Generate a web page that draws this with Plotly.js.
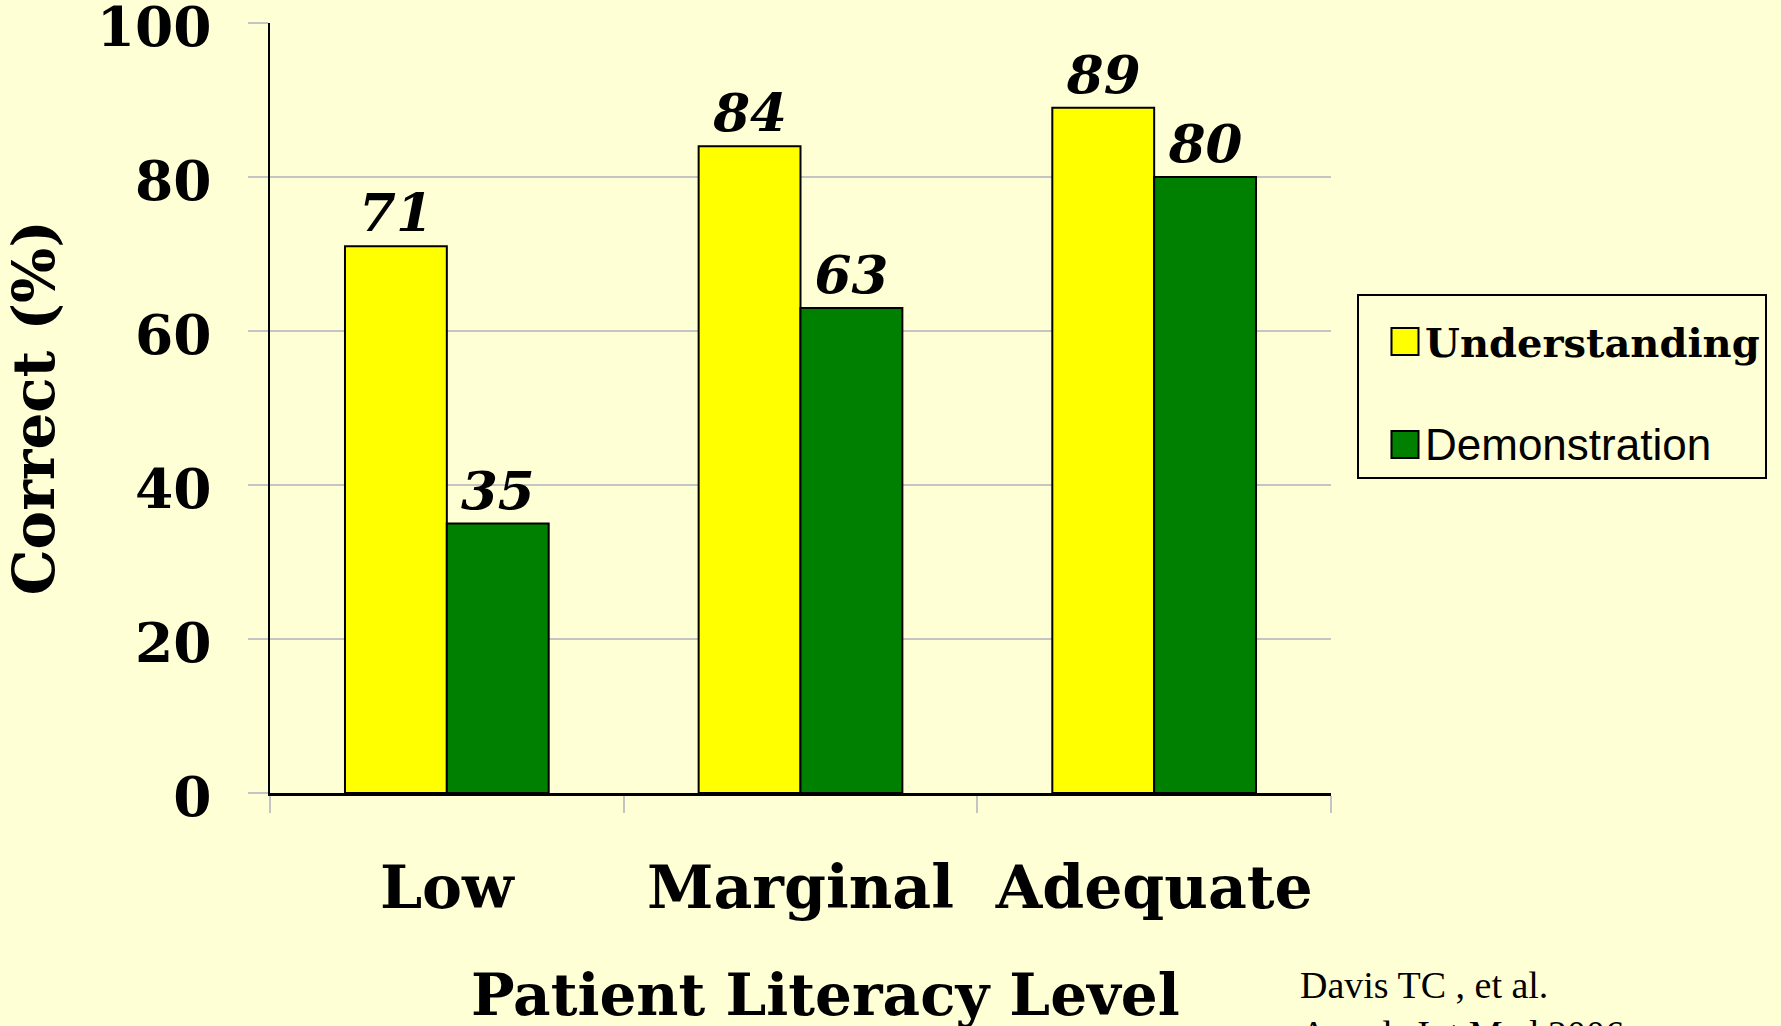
<!DOCTYPE html>
<html>
<head>
<meta charset="utf-8">
<script src="https://cdn.plot.ly/plotly-3.0.1.min.js"></script>
<style>
  html, body { margin: 0; padding: 0; background: #FFFFD5; }
  #chart { width: 1781px; height: 1026px; }
</style>
</head>
<body>
<div id="chart"></div>
<script>
// ---- data ----
const categories = ["Low", "Marginal", "Adequate"];
const understanding = [71, 84, 89];
const demonstration = [35, 63, 80];
const seriesNames = ["Understanding", "Demonstration"];
const yTicks = [0, 20, 40, 60, 80, 100];
const xTitle = "Patient Literacy Level";
const yTitle = "Correct (%)";
const citation = ["Davis TC , et al.", "Annals Int Med 2006"];

const BG = "#FFFFD5";
const GRID = "#C4C4C4";
const serifBold = {family: "DejaVu Serif", weight: "bold", color: "#000"};
const labelFont = {family: "DejaVu Serif", size: 53, weight: "bold", style: "italic", color: "#000"};

const traces = [
  {
    type: "bar", name: "<b>" + seriesNames[0] + "</b>", legendgroup: "a",
    x: categories, y: understanding,
    marker: {color: "#FFFF00", line: {color: "#000", width: 2}},
    text: understanding.map(String), textposition: "outside", textfont: labelFont,
    constraintext: "none", cliponaxis: false, hoverinfo: "x+y"
  },
  {
    type: "bar",
    name: '<span style="font-family:Liberation Sans;font-weight:normal;font-size:44px">' + seriesNames[1] + '</span>',
    legendgroup: "b",
    x: categories, y: demonstration,
    marker: {color: "#008000", line: {color: "#000", width: 2}},
    text: demonstration.map(String), textposition: "outside", textfont: labelFont,
    constraintext: "none", cliponaxis: false, hoverinfo: "x+y"
  }
];

const citeFont = {family: "Liberation Serif", size: 38, color: "#000"};
const citeX = (1298 - 270) / 1061;

const layout = {
  width: 1781, height: 1026,
  paper_bgcolor: BG, plot_bgcolor: BG,
  margin: {l: 270, r: 450, t: 23, b: 233, pad: 0},
  barmode: "group", bargap: 0.424, bargroupgap: 0,
  showlegend: true,
  legend: {
    x: 1.0245, xanchor: "left", y: 0.648, yanchor: "top",
    bgcolor: BG, bordercolor: "#000", borderwidth: 2,
    font: {family: "DejaVu Serif", size: 40, color: "#000"},
    traceorder: "grouped", tracegroupgap: 48, indentation: 26,
    title: {text: " ", font: {size: 10}}
  },
  xaxis: {
    type: "category", range: [-0.5, 2.5],
    showline: true, linecolor: "#000", linewidth: 3,
    ticks: "outside", tickson: "boundaries", ticklen: 17, tickwidth: 2, tickcolor: GRID,
    tickfont: Object.assign({size: 60}, serifBold),
    ticklabelstandoff: 40,
    showgrid: false, zeroline: false, automargin: false
  },
  yaxis: {
    range: [0, 100], tickvals: yTicks, ticktext: yTicks.map(String),
    showline: true, linecolor: "#000", linewidth: 2.5,
    ticks: "outside", ticklen: 20, tickwidth: 2, tickcolor: GRID,
    tickfont: Object.assign({size: 55}, serifBold),
    ticklabelstandoff: 25, ticklabelshift: 4, ticklabeloverflow: "allow",
    showgrid: true, gridcolor: GRID, gridwidth: 2, zeroline: false, automargin: false,
    title: {text: yTitle, font: Object.assign({size: 58}, serifBold), standoff: 31}
  },
  annotations: [
    {
      xref: "paper", yref: "paper", x: 0.5, xshift: 25, y: (793 - 995) / 770,
      xanchor: "center", yanchor: "middle", showarrow: false,
      text: xTitle, font: Object.assign({size: 58}, serifBold)
    },
    {
      xref: "paper", yref: "paper", x: citeX, y: -0.219,
      xanchor: "left", yanchor: "top", align: "left", showarrow: false,
      text: citation[0], font: citeFont
    },
    {
      xref: "paper", yref: "paper", x: citeX, y: -0.219, yshift: -49,
      xanchor: "left", yanchor: "top", align: "left", showarrow: false,
      text: citation[1], font: citeFont
    }
  ]
};

Plotly.newPlot("chart", traces, layout, {displayModeBar: false, staticPlot: true}).then(function (gd) {
  gd.querySelectorAll(".legend .legendpoints path").forEach(function (p) {
    const t = p.getAttribute("transform") || "";
    p.setAttribute("transform", t + " scale(2.25)");
    p.style.strokeWidth = "0.9px";
  });
});
</script>
</body>
</html>
